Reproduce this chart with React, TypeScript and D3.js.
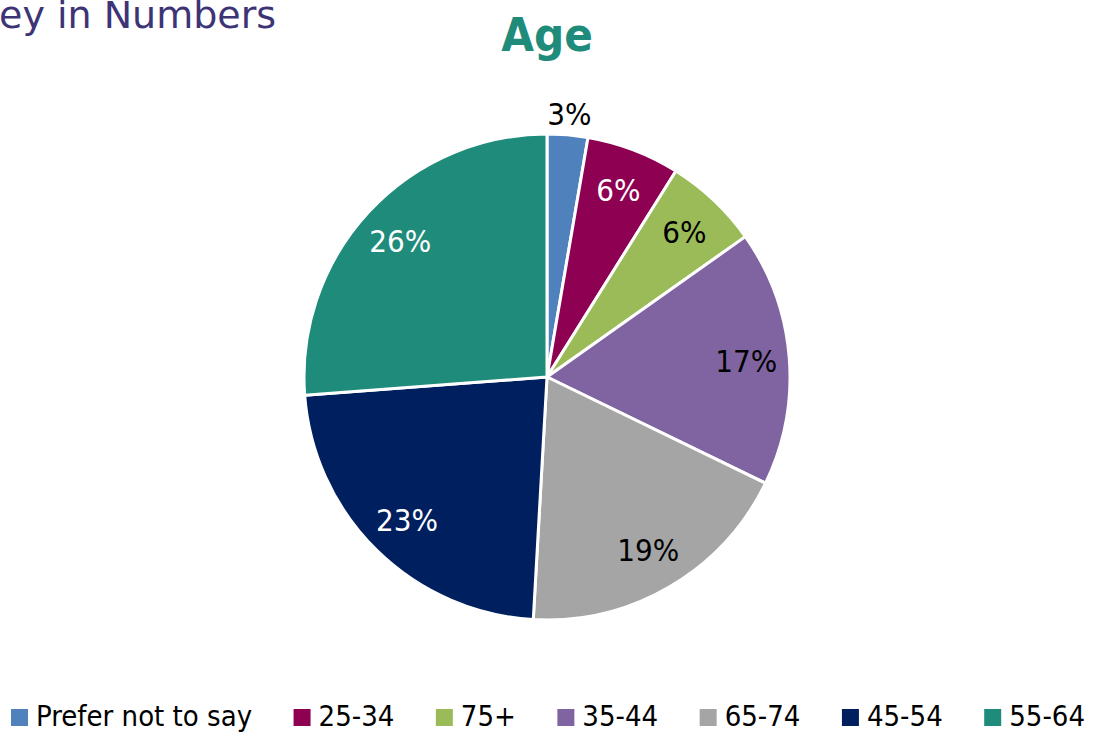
import React from "react";
import * as d3 from "d3";

const categories = ["Prefer not to say", "25-34", "75+", "35-44", "65-74", "45-54", "55-64"];
const values = [2.7, 6.2, 6.3, 17.0, 18.7, 22.9, 26.2];
const colors = ["#4F81BD", "#8E0152", "#9BBB59", "#8064A2", "#A5A5A5", "#001F5F", "#1F8B7B"];
const labelColors = ["#000", "#fff", "#000", "#000", "#000", "#fff", "#fff"];
const title = "Age";
const headerText = "ey in Numbers";

const W = 1094;
const H = 736;
const FONT = "'DejaVu Sans Condensed', 'DejaVu Sans', sans-serif";

function measure(text: string, font: string): number {
  const c = document.createElement("canvas");
  const ctx = c.getContext("2d")!;
  ctx.font = font;
  return ctx.measureText(text).width;
}

export default function App() {
  const cx = 547;
  const cy = 377;
  const r = 243;
  const pie = d3.pie<number>().sort(null).value((d) => d).startAngle(0).endAngle(2 * Math.PI);
  const arcs = pie(values);
  const arc = d3.arc<d3.PieArcDatum<number>>().innerRadius(0).outerRadius(r);
  const labelArc = d3.arc<d3.PieArcDatum<number>>().innerRadius(200).outerRadius(200);
  const outArc = d3.arc<d3.PieArcDatum<number>>().innerRadius(264).outerRadius(264);

  const legendFontSize = 29;
  const legendFont = `${legendFontSize}px 'DejaVu Sans Condensed', 'DejaVu Sans', sans-serif`;
  const sq = 17;
  const gapSqText = 8;
  const widths = categories.map((c) => measure(c, legendFont));
  const itemW = widths.map((w) => sq + gapSqText + w);
  const legendLeft = 11;
  const legendRight = 1085;
  const gapItem = (legendRight - legendLeft - d3.sum(itemW)) / (categories.length - 1);
  let x0 = legendLeft;
  const legendX: number[] = [];
  itemW.forEach((w) => {
    legendX.push(x0);
    x0 += w + gapItem;
  });
  const legendBase = 726;

  return (
    <svg width={W} height={H} style={{ position: "absolute", left: 0, top: 0 }}>
      <rect width={W} height={H} fill="#fff" />
      <text x={-1} y={28} fontFamily="'DejaVu Sans', sans-serif" fontSize={38} fill="#3D3476">
        {headerText}
      </text>
      <text x={547} y={51} textAnchor="middle" fontFamily={FONT} fontWeight="bold" fontSize={47} fill="#1F8B7B">
        {title}
      </text>
      <g transform={`translate(${cx},${cy})`}>
        {arcs.map((a, i) => (
          <path key={i} d={arc(a)!} fill={colors[i]} stroke="#fff" strokeWidth={3} strokeLinejoin="round" />
        ))}
        {arcs.map((a, i) => {
          const [lx, ly] = values[i] < 4 ? outArc.centroid(a) : labelArc.centroid(a);
          return (
            <text
              key={"l" + i}
              x={lx}
              y={ly}
              dy="0.36em"
              textAnchor="middle"
              fontFamily={FONT}
              fontSize={31}
              fill={values[i] < 4 ? "#000" : labelColors[i]}
            >
              {Math.round(values[i])}%
            </text>
          );
        })}
      </g>
      <g>
        {categories.map((c, i) => (
          <g key={c} transform={`translate(${legendX[i]},${legendBase})`}>
            <rect x={0} y={-sq} width={sq} height={sq} fill={colors[i]} />
            <text x={sq + gapSqText} y={0} fontFamily={FONT} fontSize={legendFontSize} fill="#000">
              {c}
            </text>
          </g>
        ))}
      </g>
    </svg>
  );
}
